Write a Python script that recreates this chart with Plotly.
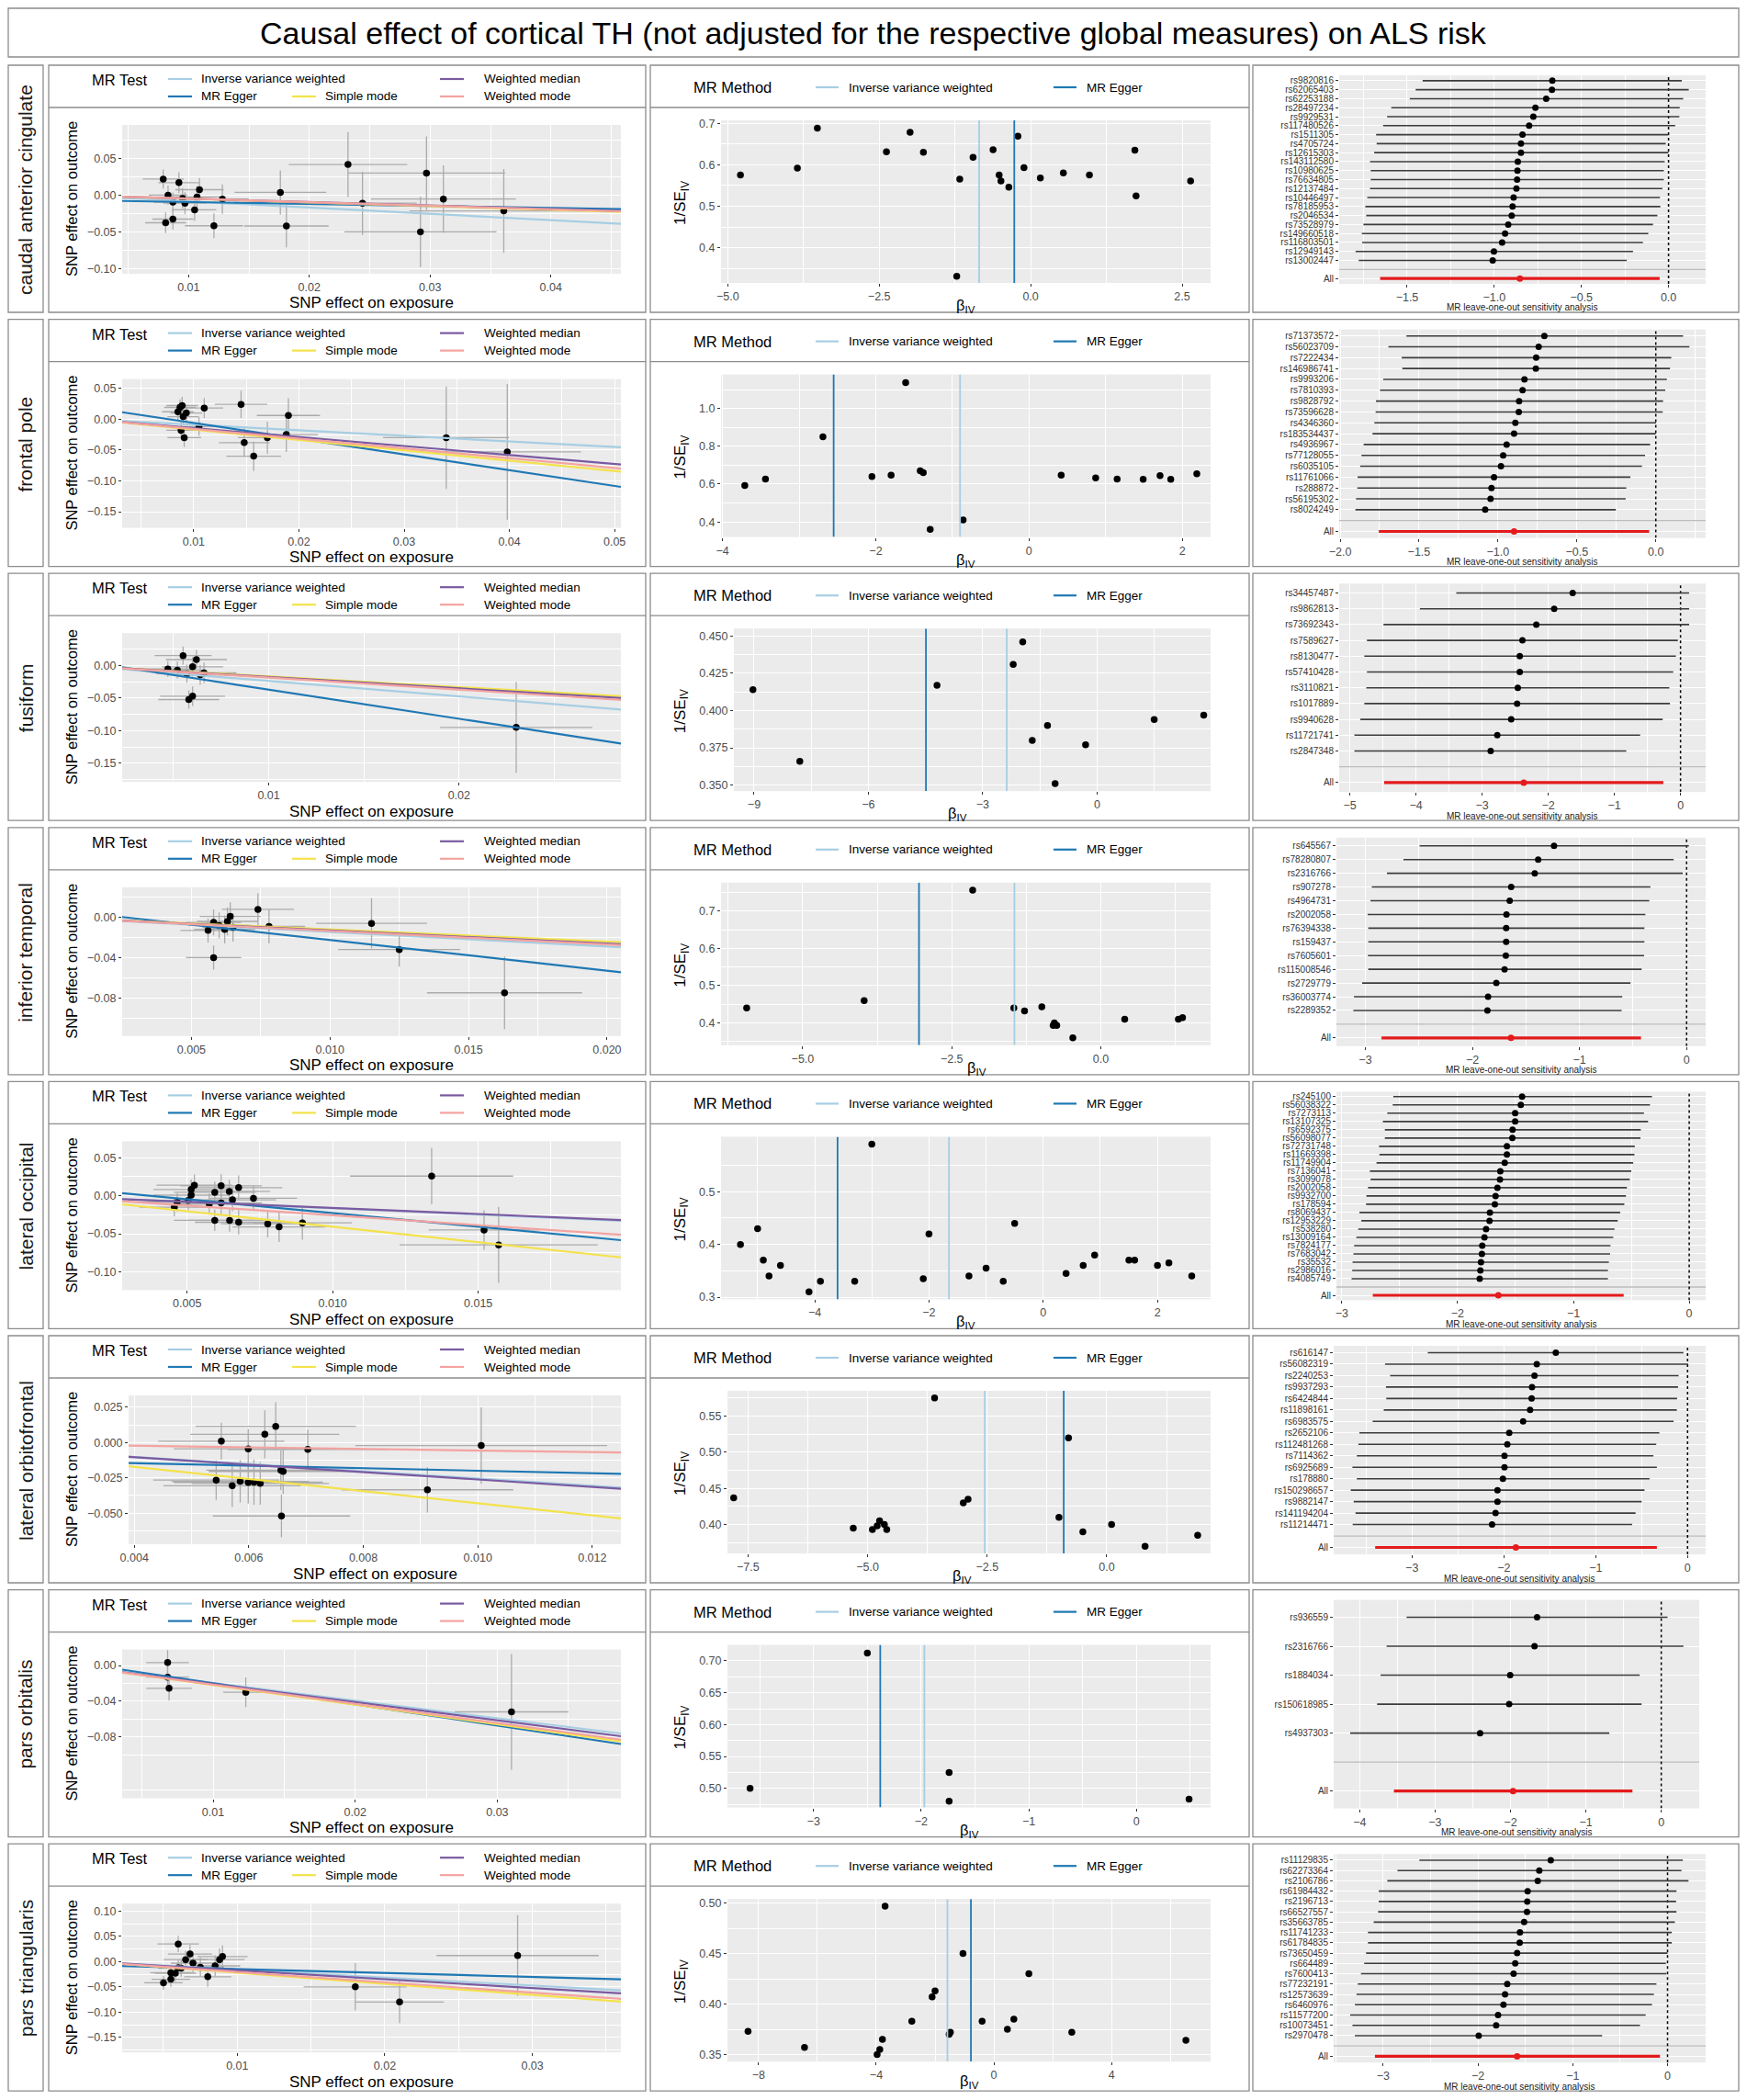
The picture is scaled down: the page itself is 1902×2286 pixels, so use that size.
import plotly.graph_objects as go

# page is drawn inside the default 8px body margin, so the figure is 16px smaller
# and every pixel position below is given in page coordinates
W, H = 1902, 2286
OFF = 8
FIG_W, FIG_H = W - 2 * OFF, H - 2 * OFF
FONT = "Liberation Sans, Arial, Helvetica, sans-serif"

TITLE = "Causal effect of cortical TH (not adjusted for the respective global measures) on ALS risk"
REGIONS = ["caudal anterior cingulate", "frontal pole", "fusiform", "inferior temporal",
           "lateral occipital", "lateral orbitofrontal", "pars orbitalis", "pars triangularis"]
METHODS = ["Inverse variance weighted", "MR Egger", "Simple mode", "Weighted median", "Weighted mode"]
METHOD_COLORS = ["#a6cee3", "#1f78b4", "#f3e24b", "#7a5aa0", "#f4a3a0"]

# ---------------- caudal anterior cingulate ----------------
CAC_BX = [0.0079, 0.0081, 0.0083, 0.0087, 0.0087, 0.0092, 0.0095, 0.0097, 0.0105, 0.0107, 0.0109,
          0.0121, 0.0128, 0.0176, 0.0181, 0.0232, 0.0244, 0.0292, 0.0297, 0.0311, 0.0361]
CAC_BY = [0.0219, -0.0376, 0.0000, -0.0326, -0.0095, 0.0170, -0.0045, -0.0110, -0.0200, -0.0025, 0.0074,
          -0.0417, -0.0054, 0.0037, -0.0420, 0.0417, -0.0110, -0.0500, 0.0300, -0.0054, -0.0215]
CAC_SX = [0.0017, 0.0017, 0.0016, 0.0017, 0.0016, 0.0017, 0.0017, 0.0018, 0.0018, 0.0019, 0.0020,
          0.0024, 0.0022, 0.0038, 0.0035, 0.0049, 0.0045, 0.0063, 0.0065, 0.0060, 0.0078]
CAC_SY = [0.013, 0.014, 0.013, 0.014, 0.013, 0.014, 0.014, 0.015, 0.015, 0.015, 0.016,
          0.017, 0.020, 0.030, 0.029, 0.044, 0.043, 0.048, 0.050, 0.046, 0.057]
CAC_SLOPES = [-0.85, -0.27, -0.50, -0.47, -0.48]
CAC_EGGER_INT = -0.0067
CAC_FB = [-4.79, -3.85, -3.52, -2.38, -1.99, -1.77, -1.17, -1.22, -0.95, -0.62, -0.52, -0.49, -0.36,
          -0.21, -0.11, 0.16, 0.54, 0.97, 1.72, 1.74, 2.64]
CAC_FW = [0.575, 0.592, 0.688, 0.631, 0.678, 0.630, 0.565, 0.331, 0.618, 0.636, 0.575, 0.561, 0.546,
          0.669, 0.593, 0.568, 0.580, 0.575, 0.635, 0.525, 0.561]
CAC_SNP = ["rs9820816", "rs62065403", "rs62253188", "rs28497234", "rs9929531", "rs117480526", "rs1511305",
           "rs4705724", "rs12615303", "rs143112580", "rs10980625", "rs76634805", "rs12137484", "rs10446497",
           "rs78185953", "rs2046534", "rs73528979", "rs149660518", "rs116803501", "rs12949143", "rs13002447"]
CAC_LOO = [-0.667, -0.669, -0.702, -0.764, -0.776, -0.800, -0.838, -0.847, -0.847, -0.865, -0.867,
           -0.869, -0.873, -0.889, -0.895, -0.900, -0.920, -0.938, -0.955, -1.002, -1.009]
CAC_LO = [-1.411, -1.451, -1.485, -1.591, -1.615, -1.638, -1.678, -1.675, -1.689, -1.713, -1.709,
          -1.709, -1.713, -1.729, -1.740, -1.735, -1.751, -1.760, -1.758, -1.796, -1.778]
CAC_HI = [0.076, 0.116, 0.084, 0.064, 0.062, 0.038, 0.000, -0.016, 0.000, -0.022, -0.027,
          -0.027, -0.035, -0.049, -0.047, -0.064, -0.089, -0.116, -0.147, -0.204, -0.240]
CAC_ALL = [-0.853, -1.655, -0.051]

# ---------------- frontal pole ----------------
FP_BX = [0.0085, 0.0087, 0.0088, 0.0089, 0.0090, 0.0091, 0.0093, 0.0105, 0.0110, 0.0145, 0.0148,
         0.0157, 0.0170, 0.0188, 0.0190, 0.0340, 0.0398]
FP_BY = [0.012, 0.019, -0.018, 0.022, 0.004, -0.030, 0.010, -0.012, 0.018, 0.024, -0.038,
         -0.060, -0.030, -0.025, 0.006, -0.030, -0.053]
FP_SX = [0.0015, 0.0015, 0.0014, 0.0015, 0.0015, 0.0016, 0.0015, 0.0017, 0.0018, 0.0025, 0.0024,
         0.0026, 0.0028, 0.0030, 0.0030, 0.0060, 0.0070]
FP_SY = [0.013, 0.013, 0.014, 0.014, 0.014, 0.015, 0.014, 0.015, 0.016, 0.022, 0.023,
         0.024, 0.026, 0.028, 0.028, 0.083, 0.110]
FP_SLOPES = [-0.90, -2.55, -1.68, -1.45, -1.58]
FP_EGGER_INT = 0.0194
FP_FB = [-3.71, -3.44, -2.69, -2.05, -1.80, -1.61, -1.42, -1.38, -1.29, -0.86, 0.42, 0.87, 1.15,
         1.49, 1.71, 1.85, 2.19]
FP_FW = [0.593, 0.627, 0.850, 0.640, 0.647, 1.137, 0.670, 0.660, 0.360, 0.410, 0.647, 0.633, 0.627,
         0.625, 0.645, 0.625, 0.655]
FP_SNP = ["rs71373572", "rs56023709", "rs7222434", "rs146986741", "rs9993206", "rs7810393", "rs9828792",
          "rs73596628", "rs4346360", "rs183534437", "rs4936967", "rs77128055", "rs6035105", "rs11761066",
          "rs288872", "rs56195302", "rs8024249"]
FP_LOO = [-0.706, -0.742, -0.758, -0.760, -0.832, -0.844, -0.866, -0.868, -0.890, -0.898, -0.945,
          -0.967, -0.981, -1.025, -1.041, -1.047, -1.081]
FP_LO = [-1.580, -1.694, -1.610, -1.606, -1.727, -1.747, -1.773, -1.775, -1.783, -1.795, -1.851,
         -1.865, -1.873, -1.889, -1.891, -1.899, -1.903]
FP_HI = [0.173, 0.213, 0.098, 0.090, 0.070, 0.060, 0.046, 0.044, 0.002, 0.000, -0.036,
         -0.068, -0.088, -0.161, -0.187, -0.191, -0.253]
FP_ALL = [-0.898, -1.755, -0.042]

# ---------------- fusiform ----------------
FUS_BX = [0.0047, 0.0052, 0.0055, 0.0057, 0.0060, 0.0062, 0.0058, 0.0060, 0.0064, 0.0066, 0.0230]
FUS_BY = [-0.0052, -0.0068, 0.0154, -0.0125, -0.0018, 0.0093, -0.0522, -0.0470, -0.0141, -0.0112, -0.0950]
FUS_SX = [0.0014, 0.0015, 0.0015, 0.0016, 0.0016, 0.0016, 0.0016, 0.0017, 0.0017, 0.0017, 0.0040]
FUS_SY = [0.012, 0.013, 0.014, 0.014, 0.015, 0.015, 0.014, 0.015, 0.015, 0.016, 0.070]
FUS_SLOPES = [-2.37, -4.49, -1.65, -1.75, -1.85]
FUS_EGGER_INT = 0.008
FUS_FB = [-9.03, -7.80, -4.20, -2.20, -1.95, -1.70, -1.30, -1.10, -0.30, 1.50, 2.80]
FUS_FW = [0.414, 0.366, 0.417, 0.431, 0.446, 0.380, 0.390, 0.351, 0.377, 0.394, 0.397]
FUS_SNP = ["rs34457487", "rs9862813", "rs73692343", "rs7589627", "rs8130477", "rs57410428", "rs3110821",
           "rs1017889", "rs9940628", "rs11721741", "rs2847348"]
FUS_LOO = [-1.63, -1.91, -2.18, -2.39, -2.43, -2.43, -2.46, -2.47, -2.56, -2.77, -2.87]
FUS_LO = [-3.39, -3.94, -4.49, -4.74, -4.78, -4.74, -4.75, -4.78, -4.84, -4.93, -4.93]
FUS_HI = [0.13, 0.13, 0.13, -0.04, -0.07, -0.11, -0.17, -0.16, -0.27, -0.61, -0.82]
FUS_ALL = [-2.37, -4.48, -0.26]

# ---------------- inferior temporal ----------------
IT_BX = [0.0056, 0.0058, 0.0058, 0.0060, 0.0062, 0.0063, 0.0064, 0.0065, 0.0074, 0.0078, 0.0115, 0.0125, 0.0163]
IT_BY = [-0.013, -0.005, -0.040, -0.008, -0.012, -0.004, 0.001, -0.010, 0.008, -0.009, -0.006, -0.032, -0.075]
IT_SX = [0.0010, 0.0010, 0.0010, 0.0011, 0.0011, 0.0011, 0.0011, 0.0011, 0.0013, 0.0013, 0.0020, 0.0022, 0.0028]
IT_SY = [0.012, 0.013, 0.012, 0.013, 0.014, 0.014, 0.014, 0.014, 0.016, 0.017, 0.025, 0.017, 0.036]
IT_SLOPES = [-1.45, -3.05, -1.20, -1.30, -1.35]
IT_EGGER_INT = 0.008
IT_FB = [-5.94, -3.97, -2.15, -1.46, -1.28, -0.99, -0.80, -0.78, -0.74, -0.47, 0.40, 1.30, 1.37]
IT_FW = [0.440, 0.460, 0.757, 0.440, 0.432, 0.443, 0.393, 0.400, 0.393, 0.360, 0.410, 0.410, 0.414]
IT_SNP = ["rs645567", "rs78280807", "rs2316766", "rs907278", "rs4964731", "rs2002058", "rs76394338",
          "rs159437", "rs7605601", "rs115008546", "rs2729779", "rs36003774", "rs2289352"]
IT_LOO = [-1.238, -1.386, -1.418, -1.638, -1.652, -1.682, -1.685, -1.685, -1.688, -1.700, -1.777, -1.854, -1.860]
IT_LO = [-2.493, -2.644, -2.798, -2.940, -2.952, -2.979, -2.973, -2.973, -2.976, -2.973, -3.030, -3.106, -3.112]
IT_HI = [0.021, -0.121, -0.036, -0.338, -0.349, -0.385, -0.394, -0.394, -0.397, -0.420, -0.524, -0.601, -0.607]
IT_ALL = [-1.640, -2.849, -0.426]

# ---------------- lateral occipital ----------------
LO_BX = [0.00456, 0.00466, 0.00504, 0.00514, 0.00514, 0.00525, 0.00576, 0.00595, 0.00595, 0.00617, 0.00617,
         0.00645, 0.00646, 0.00656, 0.00677, 0.00677, 0.00728, 0.00777, 0.00816, 0.00896, 0.0134, 0.0152, 0.0157]
LO_BY = [-0.0151, -0.0086, -0.0061, 0.0008, 0.0082, 0.0139, -0.0110, 0.0045, -0.0323, 0.0131, -0.0094,
         0.0057, -0.0323, -0.0053, 0.0106, -0.0348, -0.0033, -0.0368, -0.0409, -0.0356, 0.0258, -0.0450, -0.0646]
LO_SX = [0.0012, 0.0012, 0.0012, 0.0013, 0.0013, 0.0013, 0.0013, 0.0014, 0.0014, 0.0014, 0.0014,
         0.0014, 0.0014, 0.0015, 0.0015, 0.0015, 0.0015, 0.0016, 0.0016, 0.0017, 0.0028, 0.0019, 0.0034]
LO_SY = [0.012, 0.012, 0.013, 0.013, 0.013, 0.014, 0.014, 0.014, 0.014, 0.015, 0.015,
         0.015, 0.015, 0.015, 0.016, 0.016, 0.016, 0.018, 0.020, 0.022, 0.037, 0.026, 0.050]
LO_SLOPES = [-1.65, -3.60, -4.07, -1.60, -2.57]
LO_EGGER_INT = 0.0133
LO_FB = [-5.3, -5.0, -4.9, -4.8, -4.6, -4.1, -3.9, -3.3, -3.0, -2.1, -2.0, -1.3, -1.0, -0.7, -0.5,
         0.4, 0.7, 0.9, 1.5, 1.6, 2.0, 2.2, 2.6]
LO_FW = [0.400, 0.430, 0.370, 0.340, 0.360, 0.310, 0.330, 0.330, 0.590, 0.335, 0.420, 0.340, 0.355, 0.330,
         0.440, 0.345, 0.360, 0.380, 0.370, 0.370, 0.360, 0.365, 0.340]
LO_SNP = ["rs245100", "rs56038322", "rs7273113", "rs13107325", "rs6592375", "rs56098077", "rs72731748",
          "rs11669398", "rs11749904", "rs7136041", "rs3099078", "rs2002058", "rs9932700", "rs178594",
          "rs8069437", "rs12953229", "rs538280", "rs13009164", "rs7824177", "rs7683042", "rs35532",
          "rs2986016", "rs4085749"]
LO_LOO = [-1.443, -1.454, -1.503, -1.503, -1.525, -1.527, -1.574, -1.574, -1.593, -1.631, -1.634, -1.656,
          -1.672, -1.678, -1.721, -1.724, -1.754, -1.768, -1.787, -1.790, -1.798, -1.803, -1.809]
LO_LO = [-2.555, -2.560, -2.607, -2.645, -2.628, -2.628, -2.678, -2.675, -2.700, -2.757, -2.751, -2.773,
         -2.787, -2.790, -2.847, -2.831, -2.858, -2.874, -2.893, -2.899, -2.907, -2.910, -2.915]
LO_HI = [-0.322, -0.339, -0.391, -0.355, -0.418, -0.421, -0.470, -0.473, -0.484, -0.500, -0.514, -0.538,
         -0.546, -0.560, -0.596, -0.617, -0.645, -0.656, -0.680, -0.683, -0.694, -0.702, -0.702]
LO_ALL = [-1.648, -2.732, -0.566]

# ---------------- lateral orbitofrontal ----------------
LOF_BX = [0.00552, 0.00628, 0.00647, 0.00599, 0.00703, 0.00656, 0.00543, 0.00571, 0.00599, 0.00609,
          0.00657, 0.00912, 0.01006, 0.00585, 0.00620, 0.00660]
LOF_BY = [0.0009, 0.0058, 0.0114, -0.0045, -0.0049, -0.0196, -0.0266, -0.0306, -0.0283, -0.0281,
          -0.0520, -0.0335, -0.0022, -0.0275, -0.0290, -0.0205]
LOF_SX = [0.0011, 0.0013, 0.0014, 0.0013, 0.0014, 0.0013, 0.0011, 0.0012, 0.0013, 0.0012,
          0.0012, 0.0015, 0.0022, 0.0012, 0.0012, 0.0013]
LOF_SY = [0.013, 0.017, 0.017, 0.014, 0.014, 0.014, 0.014, 0.015, 0.015, 0.016,
          0.015, 0.016, 0.027, 0.015, 0.015, 0.016]
LOF_SLOPES = [-2.55, -0.90, -4.30, -2.62, -0.57]
LOF_EGGER_INT = -0.011
LOF_FB = [-7.8, -5.3, -4.9, -4.75, -4.6, -4.65, -4.8, -3.6, -2.9, -3.0, -1.0, -0.8, -0.5, 0.1, 0.8, 1.9]
LOF_FW = [0.437, 0.395, 0.393, 0.405, 0.393, 0.400, 0.398, 0.575, 0.435, 0.430, 0.410, 0.520, 0.390,
          0.400, 0.370, 0.385]
LOF_SNP = ["rs616147", "rs56082319", "rs2240253", "rs9937293", "rs6424844", "rs11898161", "rs6983575",
           "rs2652106", "rs112481268", "rs7114362", "rs6925689", "rs178880", "rs150298657", "rs9882147",
           "rs141194204", "rs11214471"]
LOF_LOO = [-1.434, -1.641, -1.666, -1.693, -1.697, -1.714, -1.790, -1.941, -1.962, -1.993, -1.993, -2.010,
           -2.069, -2.069, -2.090, -2.128]
LOF_LO = [-2.828, -3.293, -3.238, -3.283, -3.279, -3.307, -3.428, -3.572, -3.583, -3.600, -3.648, -3.600,
          -3.666, -3.634, -3.614, -3.645]
LOF_HI = [-0.045, 0.007, -0.097, -0.103, -0.114, -0.117, -0.152, -0.307, -0.341, -0.372, -0.334, -0.414,
          -0.469, -0.500, -0.566, -0.603]
LOF_ALL = [-1.869, -3.400, -0.334]

# ---------------- pars orbitalis ----------------
PO_BX = [0.0068, 0.0068, 0.0069, 0.0123, 0.0310]
PO_BY = [0.0033, -0.0130, -0.0255, -0.0300, -0.0520]
PO_SX = [0.0015, 0.0015, 0.0016, 0.0016, 0.0040]
PO_SY = [0.0141, 0.0142, 0.0138, 0.0167, 0.0650]
PO_SLOPES = [-1.97, -2.38, -2.20, -2.05, -2.15]
PO_EGGER_INT = 0.004
PO_FB = [-3.59, -2.50, -1.74, -1.74, 0.49]
PO_FW = [0.500, 0.712, 0.525, 0.480, 0.483]
PO_SNP = ["rs936559", "rs2316766", "rs1884034", "rs150618985", "rs4937303"]
PO_LOO = [-1.647, -1.681, -2.004, -2.017, -2.403]
PO_LO = [-3.378, -3.643, -3.723, -3.769, -4.126]
PO_HI = [0.084, 0.294, -0.286, -0.261, -0.689]
PO_ALL = [-1.966, -3.546, -0.382]

# ---------------- pars triangularis ----------------
PT_BX = [0.0050, 0.0055, 0.0055, 0.0058, 0.0060, 0.0060, 0.0062, 0.0065, 0.0068, 0.0070, 0.0075,
         0.0080, 0.0085, 0.0088, 0.0090, 0.0180, 0.0210, 0.0290]
PT_BY = [-0.042, -0.035, -0.022, -0.023, 0.035, -0.012, -0.013, 0.004, 0.015, -0.003, -0.011,
         -0.030, -0.0085, 0.004, 0.010, -0.050, -0.080, 0.012]
PT_SX = [0.0013, 0.0013, 0.0014, 0.0014, 0.0014, 0.0014, 0.0015, 0.0015, 0.0015, 0.0015, 0.0016,
         0.0016, 0.0017, 0.0017, 0.0017, 0.0035, 0.0030, 0.0055]
PT_SY = [0.014, 0.015, 0.016, 0.016, 0.016, 0.016, 0.017, 0.017, 0.018, 0.018, 0.019,
         0.020, 0.021, 0.022, 0.022, 0.047, 0.042, 0.080]
PT_SLOPES = [-1.58, -0.78, -2.20, -1.75, -2.05]
PT_EGGER_INT = -0.007
PT_FB = [-8.36, -6.44, -3.97, -3.88, -3.79, -3.70, -2.79, -2.10, -2.00, -1.52, -1.48, -1.05, -0.40,
         0.46, 0.68, 1.19, 2.65, 6.53]
PT_FW = [0.373, 0.357, 0.350, 0.355, 0.365, 0.497, 0.383, 0.407, 0.413, 0.370, 0.372, 0.450, 0.383,
         0.375, 0.385, 0.430, 0.372, 0.364]
PT_SNP = ["rs11129835", "rs62273364", "rs2106786", "rs61984432", "rs2196713", "rs66527557", "rs35663785",
          "rs11741233", "rs61784835", "rs73650459", "rs664489", "rs7600413", "rs77232191", "rs12573639",
          "rs6460976", "rs11577200", "rs10073451", "rs2970478"]
PT_LOO = [-1.232, -1.353, -1.369, -1.476, -1.480, -1.483, -1.513, -1.557, -1.560, -1.587, -1.607, -1.624,
          -1.691, -1.714, -1.731, -1.788, -1.808, -1.992]
PT_LO = [-2.618, -2.849, -2.956, -3.047, -3.047, -3.053, -3.100, -3.160, -3.160, -3.180, -3.200, -3.234,
         -3.268, -3.281, -3.298, -3.348, -3.324, -3.298]
PT_HI = [0.161, 0.147, 0.221, 0.094, 0.090, 0.094, 0.077, 0.044, 0.044, 0.000, -0.017, -0.013,
         -0.117, -0.144, -0.164, -0.231, -0.291, -0.690]
PT_ALL = [-1.587, -3.087, -0.080]

ROWS = [
    (CAC_BX, CAC_BY, CAC_SX, CAC_SY, CAC_SLOPES, CAC_EGGER_INT, CAC_FB, CAC_FW, CAC_SNP, CAC_LOO, CAC_LO, CAC_HI, CAC_ALL),
    (FP_BX, FP_BY, FP_SX, FP_SY, FP_SLOPES, FP_EGGER_INT, FP_FB, FP_FW, FP_SNP, FP_LOO, FP_LO, FP_HI, FP_ALL),
    (FUS_BX, FUS_BY, FUS_SX, FUS_SY, FUS_SLOPES, FUS_EGGER_INT, FUS_FB, FUS_FW, FUS_SNP, FUS_LOO, FUS_LO, FUS_HI, FUS_ALL),
    (IT_BX, IT_BY, IT_SX, IT_SY, IT_SLOPES, IT_EGGER_INT, IT_FB, IT_FW, IT_SNP, IT_LOO, IT_LO, IT_HI, IT_ALL),
    (LO_BX, LO_BY, LO_SX, LO_SY, LO_SLOPES, LO_EGGER_INT, LO_FB, LO_FW, LO_SNP, LO_LOO, LO_LO, LO_HI, LO_ALL),
    (LOF_BX, LOF_BY, LOF_SX, LOF_SY, LOF_SLOPES, LOF_EGGER_INT, LOF_FB, LOF_FW, LOF_SNP, LOF_LOO, LOF_LO, LOF_HI, LOF_ALL),
    (PO_BX, PO_BY, PO_SX, PO_SY, PO_SLOPES, PO_EGGER_INT, PO_FB, PO_FW, PO_SNP, PO_LOO, PO_LO, PO_HI, PO_ALL),
    (PT_BX, PT_BY, PT_SX, PT_SY, PT_SLOPES, PT_EGGER_INT, PT_FB, PT_FW, PT_SNP, PT_LOO, PT_LO, PT_HI, PT_ALL),
]

# axis ranges / breaks per row: scatter x, scatter y, funnel x, funnel y, forest x
AXES = [
    dict(sx=([0.0045, 0.0458], [0.01, 0.02, 0.03, 0.04], ".2f"),
         sy=([-0.107, 0.0955], [-0.10, -0.05, 0.0, 0.05], ".2f"),
         fx=([-5.11, 2.97], [-5.0, -2.5, 0.0, 2.5], ".1f"),
         fy=([0.315, 0.707], [0.4, 0.5, 0.6, 0.7], ".1f"),
         lx=([-1.89, 0.213], [-1.5, -1.0, -0.5, 0.0], ".1f")),
    dict(sx=([0.0032, 0.0506], [0.01, 0.02, 0.03, 0.04, 0.05], ".2f"),
         sy=([-0.176, 0.065], [-0.15, -0.10, -0.05, 0.0, 0.05], ".2f"),
         fx=([-4.02, 2.37], [-4, -2, 0, 2], "d"),
         fy=([0.32, 1.18], [0.4, 0.6, 0.8, 1.0], ".1f"),
         lx=([-2.006, 0.316], [-2.0, -1.5, -1.0, -0.5, 0.0], ".1f")),
    dict(sx=([0.0023, 0.0285], [0.01, 0.02], ".2f"),
         sy=([-0.179, 0.05], [-0.15, -0.10, -0.05, 0.0], ".2f"),
         fx=([-9.53, 2.98], [-9, -6, -3, 0, 3], "d"),
         fy=([0.346, 0.455], [0.350, 0.375, 0.400, 0.425, 0.450], ".3f"),
         lx=([-5.16, 0.38], [-5, -4, -3, -2, -1, 0], "d")),
    dict(sx=([0.0025, 0.0205], [0.005, 0.010, 0.015, 0.020], ".3f"),
         sy=([-0.118, 0.030], [-0.08, -0.04, 0.0], ".2f"),
         fx=([-6.37, 1.84], [-5.0, -2.5, 0.0], ".1f"),
         fy=([0.34, 0.777], [0.4, 0.5, 0.6, 0.7], ".1f"),
         lx=([-3.27, 0.178], [-3, -2, -1, 0], "d")),
    dict(sx=([0.00277, 0.0199], [0.005, 0.010, 0.015], ".3f"),
         sy=([-0.124, 0.0715], [-0.10, -0.05, 0.0, 0.05], ".2f"),
         fx=([-5.64, 2.93], [-4, -2, 0, 2], "d"),
         fy=([0.296, 0.604], [0.3, 0.4, 0.5], ".1f"),
         lx=([-3.046, 0.142], [-3, -2, -1, 0], "d")),
    dict(sx=([0.0039, 0.0125], [0.004, 0.006, 0.008, 0.010, 0.012], ".3f"),
         sy=([-0.072, 0.0333], [-0.050, -0.025, 0.0, 0.025], ".3f"),
         fx=([-7.93, 2.17], [-7.5, -5.0, -2.5, 0.0], ".1f"),
         fy=([0.36, 0.585], [0.40, 0.45, 0.50, 0.55], ".2f"),
         lx=([-3.852, 0.197], [-3, -2, -1, 0], "d")),
    dict(sx=([0.0036, 0.0387], [0.01, 0.02, 0.03], ".2f"),
         sy=([-0.149, 0.018], [-0.08, -0.04, 0.0], ".2f"),
         fx=([-3.80, 0.69], [-3, -2, -1, 0], "d"),
         fy=([0.47, 0.725], [0.50, 0.55, 0.60, 0.65, 0.70], ".2f"),
         lx=([-4.345, 0.504], [-4, -3, -2, -1, 0], "d")),
    dict(sx=([0.0022, 0.036], [0.01, 0.02, 0.03], ".2f"),
         sy=([-0.18, 0.115], [-0.15, -0.10, -0.05, 0.0, 0.05, 0.10], ".2f"),
         fx=([-9.06, 7.37], [-8, -4, 0, 4], "d"),
         fy=([0.343, 0.504], [0.35, 0.40, 0.45, 0.50], ".2f"),
         lx=([-3.522, 0.402], [-3, -2, -1, 0], "d")),
]

# panel left/right edges (page px); they move with the width of each row's tick labels
SC_LEFT = [133, 133, 133, 133, 133, 140, 133, 133]
FN_LEFT = [785, 785, 799, 785, 785, 792, 792, 792]
FO_LEFT = [1458, 1458, 1458, 1455, 1455, 1452, 1452, 1452]
FO_RIGHT = [1857, 1857, 1857, 1857, 1857, 1857, 1850, 1857]

ROW_TOP0, ROW_PITCH, ROW_H = 71, 276.6, 269
BOX_COLOR = "#8c8c8c"
ERR_GREY = "#ababab"
TICK_GREY = "#4d4d4d"
RIGHT_EDGE = OFF + FIG_W - 1


def px_x(v):
    return (v - OFF) / FIG_W


def px_y(v):
    return 1 - (v - OFF) / FIG_H


def minor_vals(vals, rng):
    step = vals[1] - vals[0]
    cand = [vals[0] - step * (k + 0.5) for k in range(3)]
    cand += [v + step / 2 for v in vals]
    cand += [vals[-1] + step * (k + 1.5) for k in range(2)]
    return sorted(v for v in cand if rng[0] <= v <= rng[1])


def make_axis(rng, ticks, fmt, dom, anchor):
    return dict(domain=dom, range=rng, anchor=anchor, tickmode="array", tickvals=ticks, tickformat=fmt,
                showgrid=True, gridcolor="white", gridwidth=1.1, zeroline=False, showline=False,
                ticks="outside", ticklen=3, tickwidth=1, tickcolor="#333333",
                tickfont=dict(size=12.5, color=TICK_GREY, family=FONT),
                minor=dict(tickmode="array", tickvals=minor_vals(ticks, rng), showgrid=True,
                           gridcolor="white", gridwidth=0.55, ticks=""),
                fixedrange=True)


def ax_names(k):
    return ("x" if k == 1 else f"x{k}"), ("y" if k == 1 else f"y{k}")


fig = go.Figure()
layout = {}
shapes = []
annotations = []


def rect(x0, y0, x1, y1):
    shapes.append(dict(type="rect", xref="paper", yref="paper", x0=px_x(x0), x1=px_x(x1),
                       y0=px_y(y1), y1=px_y(y0), line=dict(color=BOX_COLOR, width=1.3)))


def hline(x0, x1, y, color=BOX_COLOR, width=1.3):
    shapes.append(dict(type="line", xref="paper", yref="paper", x0=px_x(x0), x1=px_x(x1),
                       y0=px_y(y), y1=px_y(y), line=dict(color=color, width=width)))


def text(x, y, s, size, anchor="center", angle=0, color="black"):
    annotations.append(dict(x=px_x(x), y=px_y(y), xref="paper", yref="paper", text=s, showarrow=False,
                            xanchor=anchor, yanchor="middle", textangle=angle,
                            font=dict(size=size, color=color, family=FONT)))


# title
rect(9, 9, RIGHT_EDGE, 62)
text(951, 36, TITLE, 34)

for r, row in enumerate(ROWS):
    bx, by, sx, sy, slopes, egger_int, fb, fw, snp, loo, lo, hi, all_est = row
    ax = AXES[r]
    T = ROW_TOP0 + ROW_PITCH * r

    # panel frames
    rect(9, T, 47, T + ROW_H)
    rect(53, T, 703, T + ROW_H)
    hline(53, 703, T + 46)
    rect(708, T, 1360, T + ROW_H)
    hline(708, 1360, T + 46)
    rect(1364, T, RIGHT_EDGE, T + ROW_H)
    text(28, T + 136, REGIONS[r], 21, angle=-90, color="#1a1a1a")

    # ---- scatter ----
    k = 3 * r + 1
    xa, ya = ax_names(k)
    sl = SC_LEFT[r]
    dom_x = [px_x(sl), px_x(676)]
    dom_y = [px_y(T + 227), px_y(T + 65)]
    layout["xaxis" if k == 1 else f"xaxis{k}"] = make_axis(*ax["sx"], dom_x, ya)
    layout["yaxis" if k == 1 else f"yaxis{k}"] = make_axis(*ax["sy"], dom_y, xa)
    fig.add_trace(go.Scatter(x=bx, y=by, mode="markers", xaxis=xa, yaxis=ya, showlegend=False,
                             marker=dict(color="black", size=7.5),
                             error_x=dict(type="data", array=sx, color=ERR_GREY, thickness=1.3, width=0),
                             error_y=dict(type="data", array=sy, color=ERR_GREY, thickness=1.3, width=0)))
    xr = ax["sx"][0]
    for m, slope in enumerate(slopes):
        icpt = egger_int if m == 1 else 0.0
        fig.add_trace(go.Scatter(x=xr, y=[icpt + slope * v for v in xr], mode="lines", xaxis=xa, yaxis=ya,
                                 showlegend=False, line=dict(color=METHOD_COLORS[m], width=2.2)))
    text((sl + 676) / 2, T + 259, "SNP effect on exposure", 17)
    text(78, T + 146, "SNP effect on outcome", 16.5, angle=-90)
    # legend
    text(98, T + 16, "MR Test", 16.5, anchor="left")
    leg = [(183, T + 15, 0), (183, T + 34, 1), (318, T + 34, 2), (479, T + 15, 3), (479, T + 34, 4)]
    for lx, ly, m in leg:
        hline(lx, lx + 26, ly, METHOD_COLORS[m], 2.2)
        text(lx + 34 if m < 3 else lx + 46, ly, METHODS[m], 13.5, anchor="left")

    # ---- funnel ----
    k = 3 * r + 2
    xa, ya = ax_names(k)
    fl = FN_LEFT[r]
    dom_x = [px_x(fl), px_x(1318)]
    dom_y = [px_y(T + 237), px_y(T + 60)]
    layout[f"xaxis{k}"] = make_axis(*ax["fx"], dom_x, ya)
    layout[f"yaxis{k}"] = make_axis(*ax["fy"], dom_y, xa)
    fig.add_trace(go.Scatter(x=fb, y=fw, mode="markers", xaxis=xa, yaxis=ya, showlegend=False,
                             marker=dict(color="black", size=7.5)))
    yr = ax["fy"][0]
    for m in (0, 1):
        fig.add_trace(go.Scatter(x=[slopes[m], slopes[m]], y=yr, mode="lines", xaxis=xa, yaxis=ya,
                                 showlegend=False, line=dict(color=METHOD_COLORS[m], width=1.8)))
    # keep the beta title clear of a tick label sitting right under the panel centre
    bcx = (fl + 1318) / 2
    frng = ax["fx"][0]
    for tv in ax["fx"][1]:
        tpx = fl + (tv - frng[0]) / (frng[1] - frng[0]) * (1318 - fl)
        if abs(tpx - bcx) < 24:
            bcx = tpx + 27 if tpx <= bcx else tpx - 27
    text(bcx, min(T + 262, 2266), "β<sub>IV</sub>", 16.5)
    text(742, T + 150, "1/SE<sub>IV</sub>", 17, angle=-90)
    text(753, T + 24, "MR Method", 16.5, anchor="left")
    hline(888, 913, T + 24, METHOD_COLORS[0], 2.2)
    text(922, T + 24, METHODS[0], 13.5, anchor="left")
    hline(1147, 1172, T + 24, METHOD_COLORS[1], 2.2)
    text(1181, T + 24, METHODS[1], 13.5, anchor="left")

    # ---- leave-one-out forest ----
    k = 3 * r + 3
    xa, ya = ax_names(k)
    n = len(snp)
    pos = [n + 2 - i for i in range(n)]
    dom_x = [px_x(FO_LEFT[r]), px_x(FO_RIGHT[r])]
    dom_y = [px_y(T + 238), px_y(T + 11)]
    layout[f"xaxis{k}"] = make_axis(*ax["lx"], dom_x, ya)
    fy_axis = make_axis([0.4, n + 2.6], pos + [1], None, dom_y, xa)
    fy_axis.update(ticktext=snp + ["All"], minor=dict(showgrid=False), ticklen=3,
                   tickfont=dict(size=10, color="#333333", family=FONT))
    fy_axis.pop("tickformat")
    layout[f"yaxis{k}"] = fy_axis
    lxr = ax["lx"][0]
    fig.add_trace(go.Scatter(x=lxr, y=[2, 2], mode="lines", xaxis=xa, yaxis=ya, showlegend=False,
                             line=dict(color="#bdbdbd", width=1.3)))
    fig.add_trace(go.Scatter(x=[0, 0], y=[0.4, n + 2.6], mode="lines", xaxis=xa, yaxis=ya, showlegend=False,
                             line=dict(color="black", width=1.5, dash="dot")))
    fig.add_trace(go.Scatter(x=loo, y=pos, mode="markers", xaxis=xa, yaxis=ya, showlegend=False,
                             marker=dict(color="black", size=7),
                             error_x=dict(type="data", symmetric=False,
                                          array=[h - e for h, e in zip(hi, loo)],
                                          arrayminus=[e - l for e, l in zip(loo, lo)],
                                          color="#3c3c3c", thickness=1.6, width=0)))
    fig.add_trace(go.Scatter(x=[all_est[0]], y=[1], mode="markers", xaxis=xa, yaxis=ya, showlegend=False,
                             marker=dict(color="#e41a1c", size=7),
                             error_x=dict(type="data", symmetric=False, array=[all_est[2] - all_est[0]],
                                          arrayminus=[all_est[0] - all_est[1]],
                                          color="#e41a1c", thickness=3.2, width=0)))
    text((FO_LEFT[r] + FO_RIGHT[r]) / 2, T + 264, "MR leave-one-out sensitivity analysis", 10, color="#1a1a1a")

fig.update_layout(**layout)
fig.update_layout(width=FIG_W, height=FIG_H, margin=dict(l=0, r=0, t=0, b=0, autoexpand=False),
                  paper_bgcolor="white", plot_bgcolor="#ebebeb", showlegend=False,
                  font=dict(family=FONT), shapes=shapes, annotations=annotations)
fig.write_html("out.html")
